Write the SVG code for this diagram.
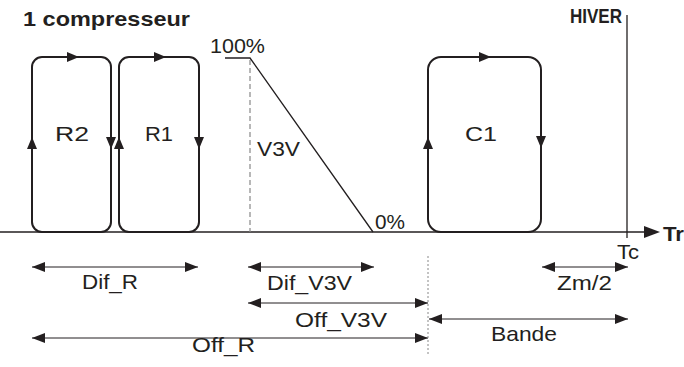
<svg xmlns="http://www.w3.org/2000/svg" xmlns:xlink="http://www.w3.org/1999/xlink" width="684" height="367" viewBox="0 0 684 367">
<style>
.t{font-family:"Liberation Sans",Arial,sans-serif;font-size:21px;fill:#231f20}
.b{font-weight:bold}
.loop{fill:none;stroke:#231f20;stroke-width:2}
.ln{fill:none;stroke:#231f20;stroke-width:1.3}
.dim{fill:none;stroke:#231f20;stroke-width:1;marker-start:url(#ah);marker-end:url(#ah)}
.tri{fill:#231f20}
</style>
<defs>
<marker id="ah" markerUnits="userSpaceOnUse" markerWidth="14" markerHeight="12" refX="13" refY="6" orient="auto-start-reverse">
<path d="M0,1 L13,6 L0,11 z" fill="#231f20"/>
</marker>
<path id="up" d="M0,-6 L5,6 L-5,6 z"/>
</defs>
<rect width="684" height="367" fill="#fff"/>

<text class="t b" x="23" y="26" font-size="22" textLength="167" lengthAdjust="spacingAndGlyphs">1 compresseur</text>
<text class="t b" x="570" y="23" font-size="18" textLength="52" lengthAdjust="spacingAndGlyphs">HIVER</text>

<g id="axis">
<line class="ln" x1="0" y1="232" x2="646" y2="232"/>
<path class="tri" d="M644,226 L660,232 L644,238 z"/>
<line class="ln" x1="627" y1="15" x2="627" y2="238" stroke-width="1"/>
<text class="t b" x="663" y="241" font-size="25" textLength="21" lengthAdjust="spacingAndGlyphs">Tr</text>
<text class="t" x="617" y="259" textLength="22" lengthAdjust="spacingAndGlyphs">Tc</text>
</g>

<g id="R2">
<rect class="loop" x="32" y="57" width="79" height="175" rx="10"/>
<use xlink:href="#up" class="tri" transform="translate(32,143)"/>
<use xlink:href="#up" class="tri" transform="translate(111,143) rotate(180)"/>
<use xlink:href="#up" class="tri" transform="translate(73,57) rotate(90)"/>
<text class="t" x="55" y="141" textLength="34" lengthAdjust="spacingAndGlyphs">R2</text>
</g>

<g id="R1">
<rect class="loop" x="119" y="57" width="80" height="175" rx="10"/>
<use xlink:href="#up" class="tri" transform="translate(119,143)"/>
<use xlink:href="#up" class="tri" transform="translate(199,143) rotate(180)"/>
<use xlink:href="#up" class="tri" transform="translate(160,57) rotate(90)"/>
<text class="t" x="145" y="141" textLength="28" lengthAdjust="spacingAndGlyphs">R1</text>
</g>

<g id="V3V">
<polyline class="ln" points="225,58 250,58 373,232" stroke-width="1.5"/>
<line x1="250" y1="60" x2="250" y2="232" stroke="#888" stroke-width="1.2" stroke-dasharray="5,3"/>
<text class="t" x="210" y="53" textLength="55" lengthAdjust="spacingAndGlyphs">100%</text>
<text class="t" x="257" y="156" font-size="22" textLength="43" lengthAdjust="spacingAndGlyphs">V3V</text>
<text class="t" x="375" y="229" textLength="30" lengthAdjust="spacingAndGlyphs">0%</text>
</g>

<g id="C1">
<rect class="loop" x="428" y="57" width="113" height="175" rx="13"/>
<use xlink:href="#up" class="tri" transform="translate(428,143)"/>
<use xlink:href="#up" class="tri" transform="translate(541,142) rotate(180)"/>
<use xlink:href="#up" class="tri" transform="translate(485,57) rotate(90)"/>
<text class="t" x="465" y="141" textLength="32" lengthAdjust="spacingAndGlyphs">C1</text>
</g>

<g id="connectors">
<line class="dim" x1="32" y1="267" x2="198" y2="267"/>
<line class="dim" x1="248" y1="267" x2="374" y2="267"/>
<line class="dim" x1="248" y1="303" x2="428" y2="303"/>
<line class="dim" x1="32" y1="338" x2="428" y2="338"/>
<line class="dim" x1="429" y1="319" x2="628" y2="319"/>
<line class="dim" x1="542" y1="267" x2="628" y2="267"/>
<line x1="428" y1="256" x2="428" y2="355" stroke="#888" stroke-width="1" stroke-dasharray="2,2"/>
</g>

<g id="labels">
<text class="t" x="82" y="289" textLength="56" lengthAdjust="spacingAndGlyphs">Dif_R</text>
<text class="t" x="267" y="290" textLength="85" lengthAdjust="spacingAndGlyphs">Dif_V3V</text>
<text class="t" x="295" y="327" textLength="92" lengthAdjust="spacingAndGlyphs">Off_V3V</text>
<text class="t" x="192" y="352" textLength="63" lengthAdjust="spacingAndGlyphs">Off_R</text>
<text class="t" x="557" y="290" textLength="55" lengthAdjust="spacingAndGlyphs">Zm/2</text>
<text class="t" x="491" y="341" textLength="66" lengthAdjust="spacingAndGlyphs">Bande</text>
</g>
</svg>
